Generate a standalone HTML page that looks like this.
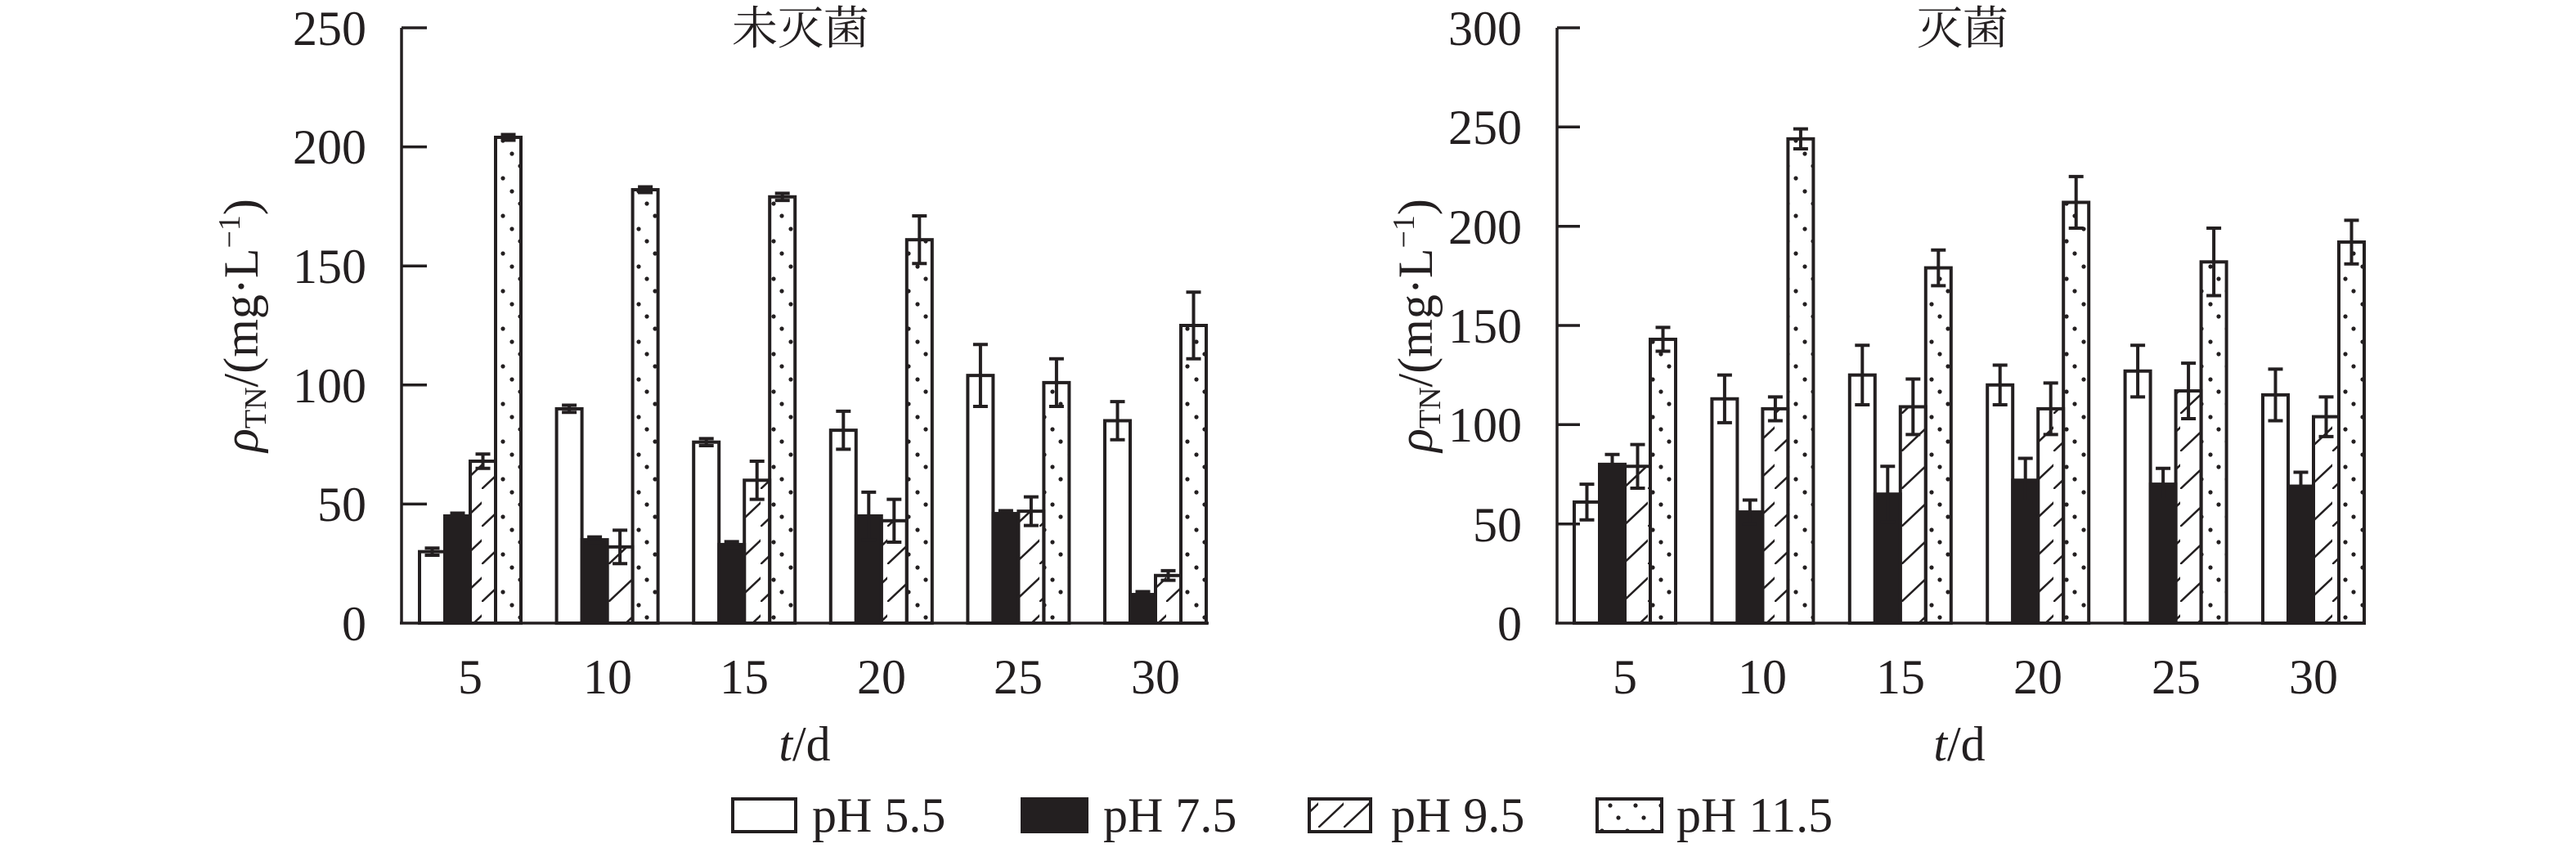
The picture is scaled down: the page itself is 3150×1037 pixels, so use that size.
<!DOCTYPE html>
<html><head><meta charset="utf-8"><style>
html,body{margin:0;padding:0;background:#fff}
svg{display:block}
text{font-family:"Liberation Serif","Noto Serif CJK SC",serif;fill:#231f20}
</style></head><body>
<svg id="s" width="3150" height="1037" viewBox="0 0 3150 1037" xmlns="http://www.w3.org/2000/svg">
<defs>
<pattern id="hatch" patternUnits="userSpaceOnUse" width="31" height="46">
<line x1="-2" y1="48" x2="33" y2="15" stroke="#231f20" stroke-width="2.5"/>
</pattern>
<pattern id="dots" patternUnits="userSpaceOnUse" width="31" height="46">
<circle cx="6" cy="4" r="2.6" fill="#231f20"/>
<circle cx="16" cy="19" r="2.6" fill="#231f20"/>
<circle cx="26" cy="34" r="2.6" fill="#231f20"/>
</pattern>
</defs>
<g id="bars"></g>
<g stroke="#231f20" stroke-width="3.5" fill="none">
<line x1="491" y1="34" x2="491" y2="762"/>
<line x1="489" y1="762" x2="1478" y2="762"/>
<line x1="491" y1="34" x2="522" y2="34"/>
<line x1="491" y1="179.6" x2="522" y2="179.6"/>
<line x1="491" y1="325.2" x2="522" y2="325.2"/>
<line x1="491" y1="470.8" x2="522" y2="470.8"/>
<line x1="491" y1="616.4" x2="522" y2="616.4"/>
<line x1="1904" y1="34" x2="1904" y2="762"/>
<line x1="1902" y1="762" x2="2890" y2="762"/>
<line x1="1904" y1="34" x2="1932" y2="34"/>
<line x1="1904" y1="155.3" x2="1932" y2="155.3"/>
<line x1="1904" y1="276.7" x2="1932" y2="276.7"/>
<line x1="1904" y1="398" x2="1932" y2="398"/>
<line x1="1904" y1="519.3" x2="1932" y2="519.3"/>
<line x1="1904" y1="640.7" x2="1932" y2="640.7"/>
</g>
<g font-size="60" text-anchor="end">
<text x="448" y="55">250</text>
<text x="448" y="200">200</text>
<text x="448" y="346">150</text>
<text x="448" y="492">100</text>
<text x="448" y="637">50</text>
<text x="448" y="783">0</text>
<text x="1861" y="55">300</text>
<text x="1861" y="176">250</text>
<text x="1861" y="298">200</text>
<text x="1861" y="419">150</text>
<text x="1861" y="540">100</text>
<text x="1861" y="662">50</text>
<text x="1861" y="783">0</text>
</g>
<g font-size="60" text-anchor="middle">
<text x="575" y="848">5</text><text x="743" y="848">10</text><text x="910" y="848">15</text>
<text x="1078" y="848">20</text><text x="1245" y="848">25</text><text x="1413" y="848">30</text>
<text x="1987" y="848">5</text><text x="2155" y="848">10</text><text x="2324" y="848">15</text>
<text x="2492" y="848">20</text><text x="2661" y="848">25</text><text x="2829" y="848">30</text>
<text x="984" y="930"><tspan font-style="italic">t</tspan>/d</text>
<text x="2396" y="930"><tspan font-style="italic">t</tspan>/d</text>
<text x="979" y="54" font-size="56">未灭菌</text>
<text x="2400" y="54" font-size="56">灭菌</text>
</g>
<g font-size="60">
<text transform="translate(315,398) rotate(-90)" text-anchor="middle"><tspan font-style="italic">ρ</tspan><tspan font-size="38" dy="10">TN</tspan><tspan dy="-10">/(mg·L</tspan><tspan font-size="38" dy="-22">−1</tspan><tspan dy="22">)</tspan></text>
<text transform="translate(1751,398) rotate(-90)" text-anchor="middle"><tspan font-style="italic">ρ</tspan><tspan font-size="38" dy="10">TN</tspan><tspan dy="-10">/(mg·L</tspan><tspan font-size="38" dy="-22">−1</tspan><tspan dy="22">)</tspan></text>
</g>
<g stroke="#231f20" stroke-width="4">
<rect x="896" y="977" width="77" height="40" fill="#fff"/>
<rect x="1250" y="977" width="79" height="40" fill="#231f20"/>
<rect x="1601" y="977" width="75" height="40" fill="url(#hatch)"/>
<rect x="1953" y="977" width="79" height="40" fill="url(#dots)"/>
</g>
<g font-size="60">
<text x="993" y="1017">pH 5.5</text>
<text x="1349" y="1017">pH 7.5</text>
<text x="1701" y="1017">pH 9.5</text>
<text x="2050" y="1017">pH 11.5</text>
</g>
</svg>
<script>
(function(){
var ns="http://www.w3.org/2000/svg",g=document.getElementById("bars");
var fills=["#fff","#231f20","url(#hatch)","url(#dots)"];
function el(t,a){var e=document.createElementNS(ns,t);for(var k in a)e.setAttribute(k,a[k]);g.appendChild(e);}
function chart(x0,sp,pu,data){
 data.forEach(function(grp,gi){
  var gx=x0+gi*sp;
  grp.forEach(function(d,i){
   var x=gx+i*31,y=762-d[0]*pu;
   el("rect",{x:x,y:y,width:31,height:762-y,fill:fills[i],stroke:"#231f20","stroke-width":4});
   var e=Math.max(d[1],1.2)*pu,cx=x+15.5;
   el("line",{x1:cx,y1:y-e,x2:cx,y2:y+e,stroke:"#231f20","stroke-width":4});
   el("line",{x1:cx-9,y1:y-e,x2:cx+9,y2:y-e,stroke:"#231f20","stroke-width":4});
   el("line",{x1:cx-9,y1:y+e,x2:cx+9,y2:y+e,stroke:"#231f20","stroke-width":4});
  });
 });
}
chart(513,167.6,2.912,[
 [[30,1.5],[45,1],[68,3],[204,1]],
 [[90,1.5],[35,1],[32,7],[182,1]],
 [[76,1.5],[33,1],[60,8],[179,1.5]],
 [[81,8],[45,10],[43,9],[161,10]],
 [[104,13],[46,1],[47,6],[101,10]],
 [[85,8],[12,1],[20,2],[125,14]]]);
chart(1925,168.4,2.427,[
 [[61,9],[80,5],[79,11],[143,6]],
 [[113,12],[56,6],[108,6],[244,5]],
 [[125,15],[65,14],[109,14],[179,9]],
 [[120,10],[72,11],[108,13],[212,13]],
 [[127,13],[70,8],[117,14],[182,17]],
 [[115,13],[69,7],[104,10],[192,11]]]);
})();
</script>
</body></html>
